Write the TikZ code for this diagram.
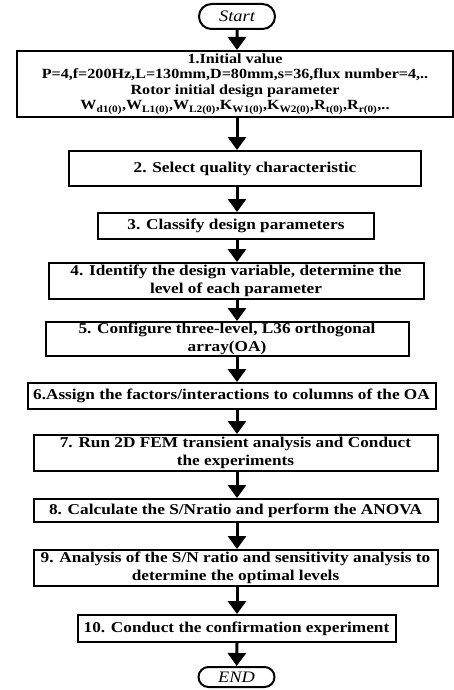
\documentclass[tikz,border=0pt]{standalone}
\usepackage{fontspec}
\setmainfont[FakeStretch=1.15]{Liberation Serif}
\usetikzlibrary{positioning,arrows.meta,shapes.misc}

\begin{document}
\begin{tikzpicture}[
  >={Triangle[width=18pt,length=13pt]},
  box/.style={draw,line width=2pt,align=center,inner sep=1pt,font=\bfseries\fontsize{15}{17.5}\selectfont},
  term/.style={draw,line width=2pt,rounded rectangle,inner sep=1pt,minimum width=78pt,font=\itshape\fontsize{16}{18}\selectfont},
  flow/.style={->,line width=3pt}]
\useasboundingbox (0,0) rectangle (454pt,-690pt);
\node[term,minimum height=25pt] (start) at (237pt,-16.5pt) {Start};
\node[box,minimum width=436pt,minimum height=66pt,below=20pt of start,xshift=-2pt,font=\bfseries\fontsize{14}{15.5}\selectfont] (b1)
  {1.Initial value\\
   P=4,f=200Hz,L=130mm,D=80mm,s=36,flux number=4,..\\
   Rotor initial design parameter\\
   W\textsubscript{d1(0)},W\textsubscript{L1(0)},W\textsubscript{L2(0)},K\textsubscript{W1(0)},K\textsubscript{W2(0)},R\textsubscript{t(0)},R\textsubscript{r(0)},..};
\node[box,minimum width=352pt,minimum height=35pt,below=32pt of b1,xshift=10pt] (b2) {2. Select quality characteristic};
\node[box,minimum width=276pt,minimum height=26pt,below=25pt of b2,xshift=-9pt] (b3) {3. Classify design parameters};
\node[box,minimum width=375pt,minimum height=36pt,below=22pt of b3] (b4) {4. Identify the design variable, determine the\\level of each parameter};
\node[box,minimum width=363pt,minimum height=34pt,below=21pt of b4,xshift=-9pt] (b5) {5. Configure three-level, L36 orthogonal\\array(OA)};
\node[box,minimum width=408pt,minimum height=26pt,below=25pt of b5,xshift=4.5pt] (b6) {6.Assign the factors/interactions to columns of the OA};
\node[box,minimum width=404pt,minimum height=36pt,below=24pt of b6,xshift=4pt] (b7) {7. Run 2D FEM transient analysis and Conduct\\the experiments};
\node[box,minimum width=404pt,minimum height=23pt,below=26pt of b7] (b8) {8. Calculate the S/Nratio and perform the ANOVA};
\node[box,minimum width=404pt,minimum height=36pt,below=26pt of b8] (b9) {9. Analysis of the S/N ratio and sensitivity analysis to\\determine the optimal levels};
\node[box,minimum width=318pt,minimum height=27pt,below=27pt of b9,xshift=1pt] (b10) {10. Conduct the confirmation experiment};
\node[term,minimum height=20pt,below=23pt of b10] (end) {END};
\draw[flow] (start) -- (b1.north -| start);
\draw[flow] (b1.south -| start) -- (b2.north -| start);
\draw[flow] (b2.south -| start) -- (b3.north -| start);
\draw[flow] (b3.south -| start) -- (b4.north -| start);
\draw[flow] (b4.south -| start) -- (b5.north -| start);
\draw[flow] (b5.south -| start) -- (b6.north -| start);
\draw[flow] (b6.south -| start) -- (b7.north -| start);
\draw[flow] (b7.south -| start) -- (b8.north -| start);
\draw[flow] (b8.south -| start) -- (b9.north -| start);
\draw[flow] (b9.south -| start) -- (b10.north -| start);
\draw[flow] (b10.south -| start) -- (end);
\end{tikzpicture}
\end{document}
